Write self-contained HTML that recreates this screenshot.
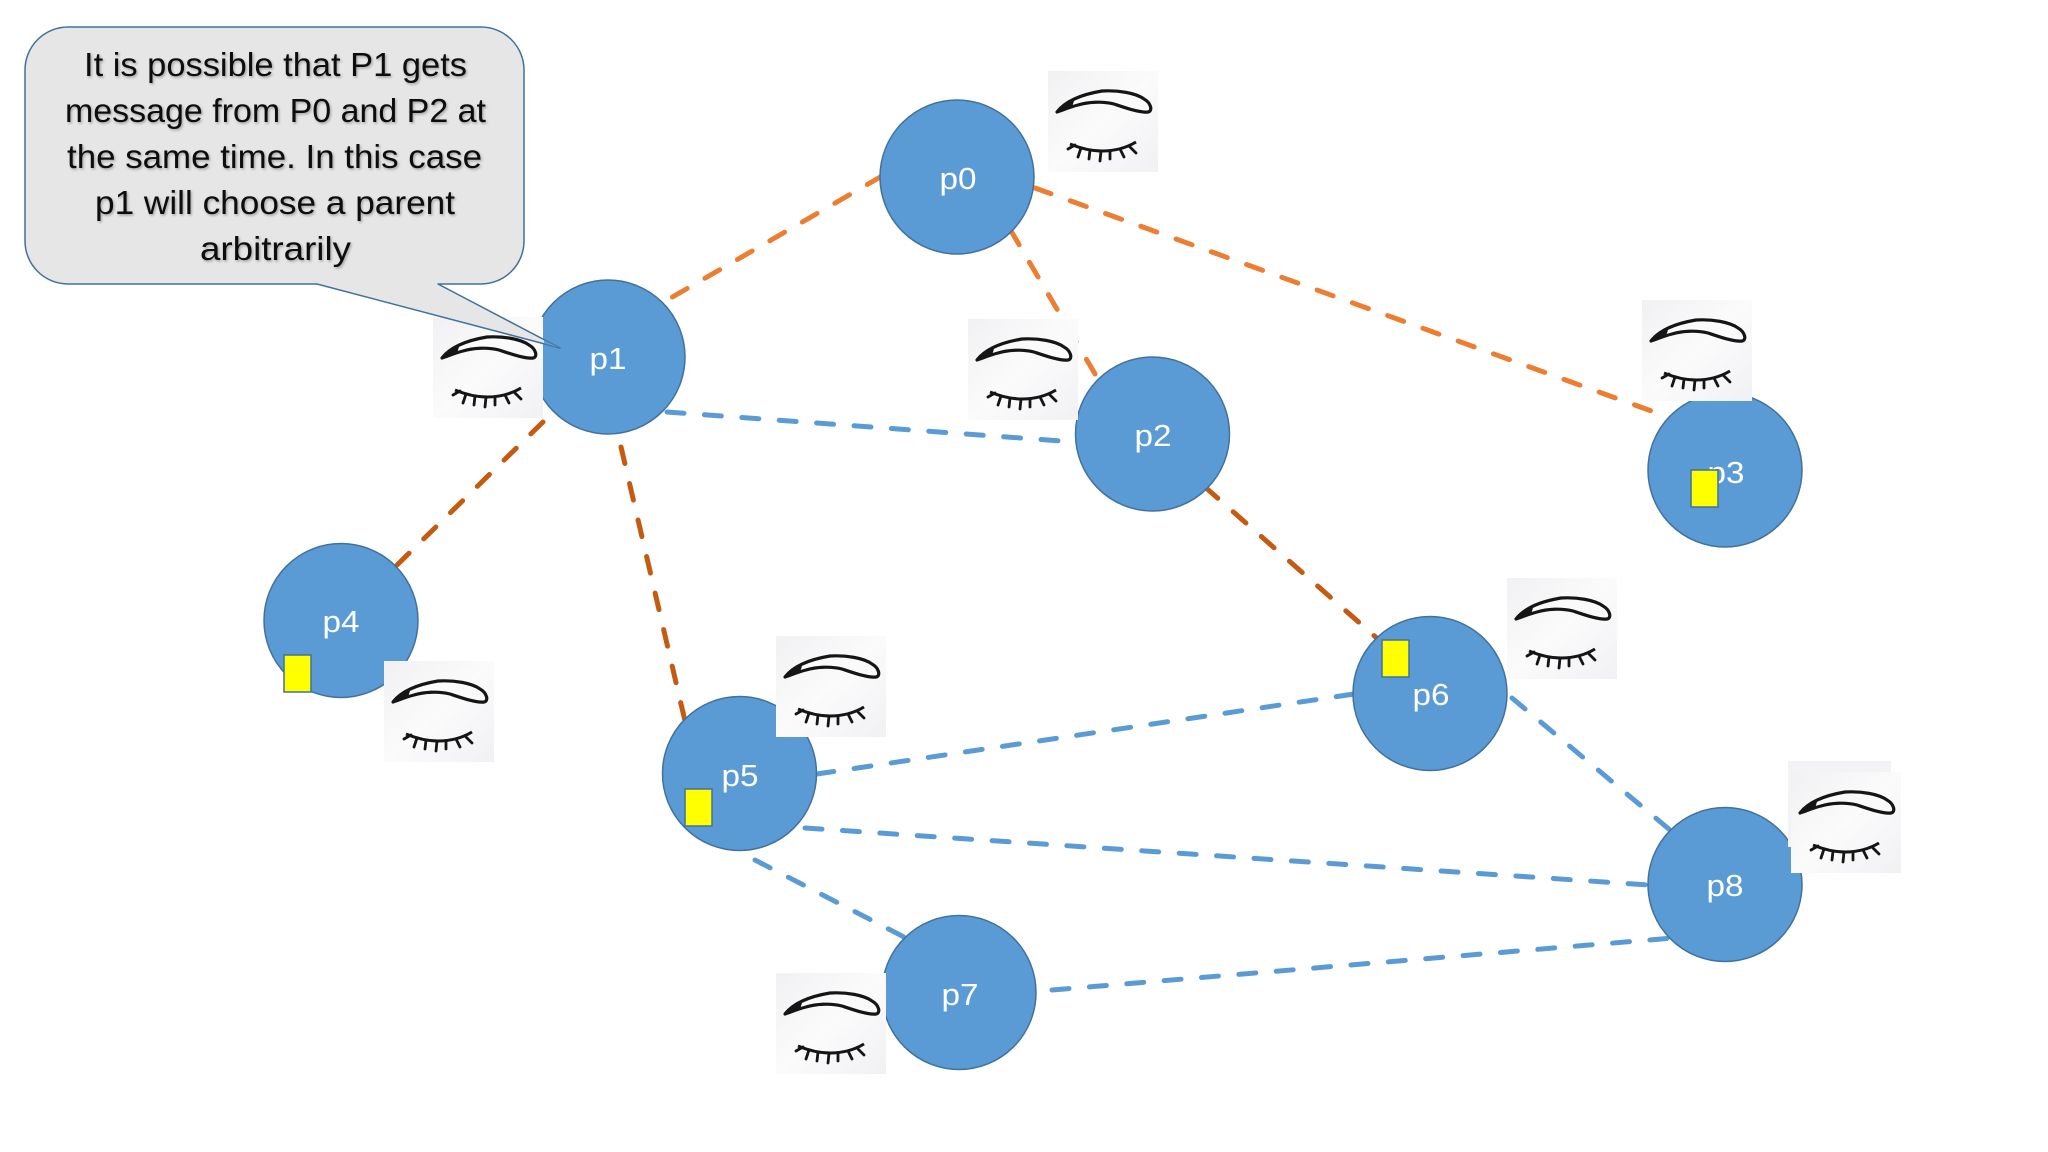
<!DOCTYPE html>
<html><head><meta charset="utf-8"><style>html,body{margin:0;padding:0;background:#fff}svg{display:block}</style></head>
<body>
<svg xmlns="http://www.w3.org/2000/svg" width="2048" height="1152" viewBox="0 0 2048 1152">
<defs>
<linearGradient id="g" x1="0" y1="0" x2="1" y2="1"><stop offset="0" stop-color="#f1f1f3"/><stop offset="0.5" stop-color="#fbfbfc"/><stop offset="1" stop-color="#f1f1f4"/></linearGradient>
<filter id="sh" x="-5%" y="-20%" width="110%" height="140%"><feDropShadow dx="1.2" dy="1.5" stdDeviation="1.3" flood-color="#000" flood-opacity=".3"/></filter>
<g id="eye">
<rect width="110" height="101" fill="url(#g)"/>
<path d="M9 41 C16 32 30 24 54 20 C70 19 88 22 96 28 C103 32 105 40 100 41 C92 42 78 37 66 33 C54 30 40 31 30 34 C22 36 15 39 9 41Z" fill="#fafafa" stroke="#151515" stroke-width="3.2" stroke-linejoin="round"/>
<path d="M9 41 C14 35 19 32 26 30 L24 36Z" fill="#151515"/>
<path d="M22 73 C34 78 44 80 54 80 C66 80 78 77 88 71" fill="none" stroke="#151515" stroke-width="3"/>
<path d="M20 78 L27 74 M30 86 L33 77 M41 88 L42 79 M52 90 L53 80 M62 88 L62 80 M76 86 L72 78 M88 82 L82 76" fill="none" stroke="#151515" stroke-width="2.8" stroke-linecap="round"/>
</g>
</defs>
<rect width="2048" height="1152" fill="#fff"/>

<g fill="none" stroke-width="5" stroke-dasharray="17 20.5" stroke-linecap="round">
<g stroke="#ED7D31">
<line x1="882" y1="176" x2="669" y2="299"/>
<line x1="1010.5" y1="230" x2="1098" y2="379"/>
<line x1="1035" y1="188" x2="1657" y2="413"/>
</g>
<g stroke="#C55A11">
<line x1="543" y1="422" x2="395" y2="567"/>
<line x1="621" y1="447" x2="685" y2="721"/>
<line x1="1205" y1="487" x2="1379" y2="640"/>
</g>
<g stroke="#5B9BD5">
<line x1="667" y1="412" x2="1075" y2="442"/>
<line x1="817" y1="774" x2="1354" y2="694"/>
<line x1="805" y1="828" x2="1649" y2="885"/>
<line x1="755" y1="860" x2="904" y2="937"/>
<line x1="1512" y1="698" x2="1670" y2="830"/>
<line x1="1052" y1="990" x2="1673" y2="938"/>
</g>
</g>

<g fill="#5B9BD5" stroke="#41719C" stroke-width="1.5">
<circle cx="957" cy="177" r="77"/>
<circle cx="608" cy="357" r="77"/>
<circle cx="1152.5" cy="434" r="77"/>
<circle cx="1725" cy="470" r="77"/>
<circle cx="341" cy="620.5" r="77"/>
<circle cx="739.5" cy="773.5" r="77"/>
<circle cx="1430" cy="693.5" r="77"/>
<circle cx="959" cy="992.5" r="77"/>
<circle cx="1725" cy="884.5" r="77"/>
</g>

<g fill="#fff" font-family="'Liberation Sans',sans-serif" font-size="31" text-anchor="middle">
<text x="958" y="189" textLength="37" lengthAdjust="spacingAndGlyphs">p0</text>
<text x="608" y="369" textLength="37" lengthAdjust="spacingAndGlyphs">p1</text>
<text x="1153" y="446" textLength="37" lengthAdjust="spacingAndGlyphs">p2</text>
<text x="1726" y="483" textLength="37" lengthAdjust="spacingAndGlyphs">p3</text>
<text x="341" y="632" textLength="37" lengthAdjust="spacingAndGlyphs">p4</text>
<text x="740" y="786" textLength="37" lengthAdjust="spacingAndGlyphs">p5</text>
<text x="1431" y="705" textLength="37" lengthAdjust="spacingAndGlyphs">p6</text>
<text x="960" y="1005" textLength="37" lengthAdjust="spacingAndGlyphs">p7</text>
<text x="1725" y="896" textLength="37" lengthAdjust="spacingAndGlyphs">p8</text>
</g>

<use href="#eye" x="1048" y="71"/>
<use href="#eye" x="433" y="317"/>
<use href="#eye" x="968" y="319"/>
<use href="#eye" x="1642" y="300"/>
<use href="#eye" x="384" y="661"/>
<use href="#eye" x="776" y="636"/>
<use href="#eye" x="1507" y="578"/>
<use href="#eye" x="776" y="973"/>
<rect x="1788" y="761" width="103" height="86" fill="#f3f3f5"/>
<use href="#eye" x="1791" y="772"/>

<g fill="#FFFF00" stroke="#41719C" stroke-width="1.5">
<rect x="1691" y="470" width="27" height="37"/>
<rect x="284" y="655" width="27" height="37"/>
<rect x="685" y="789" width="27" height="37"/>
<rect x="1382" y="640" width="27" height="37"/>
</g>

<path d="M68 27 H481 A43 43 0 0 1 524 70 V241 A43 43 0 0 1 481 284 H438 L560 348 L317 284 H68 A43 43 0 0 1 25 241 V70 A43 43 0 0 1 68 27Z" fill="#E7E6E6" stroke="#41719C" stroke-width="1.5" stroke-linejoin="round"/>
<path d="M544 340 L559 347.5 L544 343.5Z" fill="#5B9BD5"/>

<g fill="#111" font-family="'Liberation Sans',sans-serif" font-size="33" filter="url(#sh)">
<text x="84" y="76" textLength="383" lengthAdjust="spacingAndGlyphs">It is possible that P1 gets</text>
<text x="65" y="122" textLength="421" lengthAdjust="spacingAndGlyphs">message from P0 and P2 at</text>
<text x="67" y="168" textLength="415" lengthAdjust="spacingAndGlyphs">the same time. In this case</text>
<text x="95" y="214" textLength="360" lengthAdjust="spacingAndGlyphs">p1 will choose a parent</text>
<text x="200" y="260" textLength="151" lengthAdjust="spacingAndGlyphs">arbitrarily</text>
</g>
</svg>
</body></html>
